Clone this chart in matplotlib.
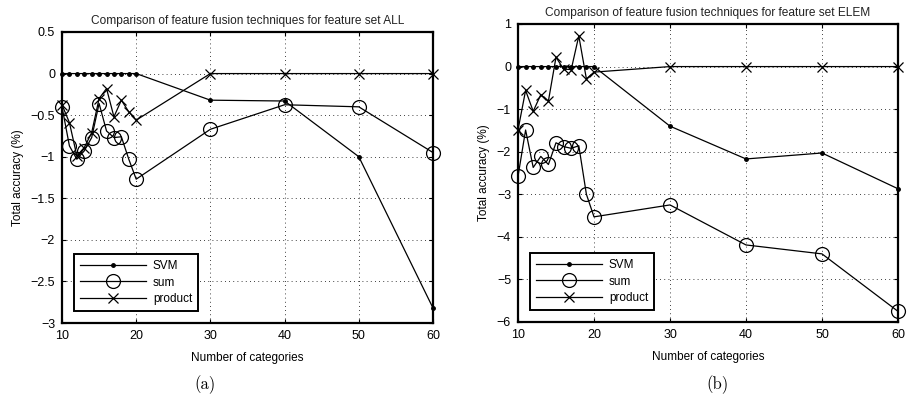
import matplotlib
matplotlib.use("Agg")
import matplotlib.pyplot as plt
from matplotlib.ticker import FuncFormatter

plt.rcParams["font.family"] = ["Liberation Sans", "DejaVu Sans"]
plt.rcParams["font.size"] = 8.5

# categories
cats = [10, 11, 12, 13, 14, 15, 16, 17, 18, 19, 20, 30, 40, 50, 60]

# feature set ALL
all_svm = [0, 0, 0, 0, 0, 0, 0, 0, 0, 0, 0, -0.32, -0.33, -1.0, -2.82]
all_sum = [-0.40, -0.87, -1.03, -0.93, -0.77, -0.36, -0.69, -0.77, -0.76,
           -1.03, -1.27, -0.67, -0.375, -0.40, -0.95]
all_prod = [-0.375, -0.59, -0.99, -0.89, -0.71, -0.30, -0.18, -0.52, -0.32,
            -0.46, -0.56, 0, 0, 0, 0]

# feature set ELEM
elem_svm = [0, 0, 0, 0, 0, 0, 0, 0, 0, 0, 0, -1.40, -2.17, -2.03, -2.87]
elem_sum = [-2.58, -1.49, -2.37, -2.11, -2.30, -1.79, -1.88, -1.92, -1.86,
            -3.00, -3.53, -3.25, -4.19, -4.40, -5.75]
elem_prod = [-1.49, -0.56, -1.05, -0.66, -0.81, 0.22, -0.06, -0.07, 0.72,
             -0.29, -0.13, 0, 0, 0, 0]

W, H = 910, 398
fig = plt.figure(figsize=(W / 100, H / 100), dpi=100)


def fmt(v, pos):
    s = "%g" % v
    return s.replace("-", "\u2212")


def draw(ax, svm, s, p, title, ylim, yticks):
    ax.plot(cats, svm, "k-", marker=".", markersize=5, lw=0.9, label="SVM",
            clip_on=False, zorder=3)
    ax.plot(cats, s, "k-", marker="o", markersize=10, mfc="none", mew=0.9,
            lw=0.9, label="sum", clip_on=False, zorder=3)
    ax.plot(cats, p, "k-", marker="x", markersize=7, mew=0.9, lw=0.9,
            label="product", clip_on=False, zorder=3)
    ax.set_xlim(10, 60)
    ax.set_ylim(*ylim)
    ax.set_xticks([10, 20, 30, 40, 50, 60])
    ax.set_yticks(yticks)
    ax.yaxis.set_major_formatter(FuncFormatter(fmt))
    ax.grid(True, color="k", linestyle=(0, (1, 4)), lw=0.6)
    for sp in ax.spines.values():
        sp.set_linewidth(1.6)
    ax.tick_params(direction="in", top=True, right=True, length=3,
                   labelsize=9, pad=5)
    ax.set_title(title, fontsize=8.6, pad=6, color="#222222")
    ax.set_xlabel("Number of categories", labelpad=7)
    ax.set_ylabel("Total accuracy (%)", labelpad=5)
    leg = ax.legend(loc="lower left", handlelength=5.6, fancybox=False,
                    framealpha=1, edgecolor="k", borderaxespad=1.0,
                    labelspacing=0.4, borderpad=0.5, handletextpad=0.6)
    leg.get_frame().set_linewidth(1.4)
    leg.set_zorder(5)


ax1 = fig.add_axes([62 / W, 1 - 323 / H, 371 / W, 291 / H])
draw(ax1, all_svm, all_sum, all_prod,
     "Comparison of feature fusion techniques for feature set ALL",
     (-3, 0.5), [-3, -2.5, -2, -1.5, -1, -0.5, 0, 0.5])

ax2 = fig.add_axes([518 / W, 1 - 322 / H, 380 / W, 298 / H])
draw(ax2, elem_svm, elem_sum, elem_prod,
     "Comparison of feature fusion techniques for feature set ELEM",
     (-6, 1), [-6, -5, -4, -3, -2, -1, 0, 1])

fig.text(205 / W, 1 - 385 / H, "(a)", fontname="cmr10", fontsize=12,
         ha="center", va="center")
fig.text(718 / W, 1 - 385 / H, "(b)", fontname="cmr10", fontsize=12,
         ha="center", va="center")

fig.savefig("out.png", dpi=100)
